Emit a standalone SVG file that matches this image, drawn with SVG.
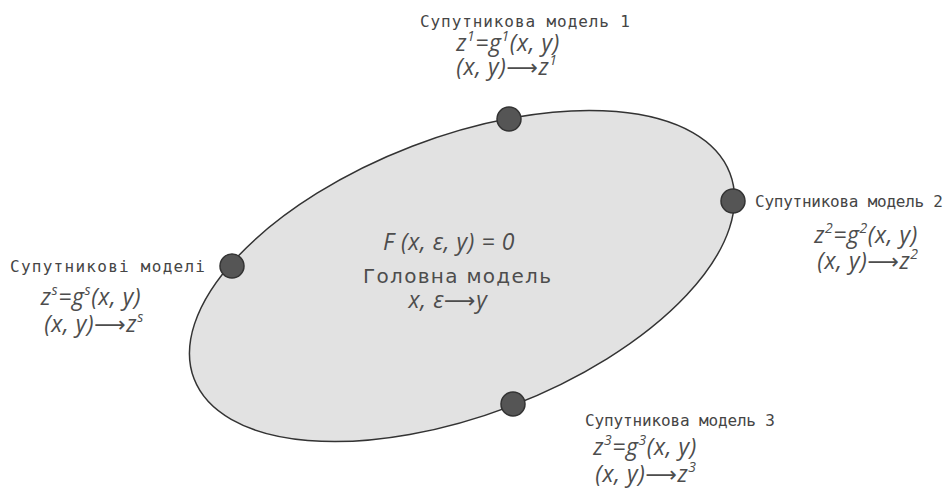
<svg xmlns="http://www.w3.org/2000/svg" width="950" height="488" viewBox="0 0 950 488">
<style>
.lbl{font-family:"DejaVu Sans Mono","Liberation Mono",monospace;font-size:16px;fill:#454545}
.f{font-family:"Open Sans","Noto Sans","DejaVu Sans",sans-serif;font-style:italic;font-size:23px;letter-spacing:0.6px;fill:#4d4d4d;text-anchor:middle}
.sup{font-size:14px}
.ar{font-family:"DejaVu Sans",sans-serif;font-style:normal;font-size:22px}
.main{font-family:"DejaVu Sans",sans-serif;font-size:20px;fill:#4d4d4d;text-anchor:middle}
.dot{fill:#555;stroke:#333;stroke-width:1.5}
</style>
<rect width="950" height="488" fill="#fff"/>
<g id="connectors"></g>
<g id="main-model">
<ellipse cx="462" cy="276" rx="287" ry="139" transform="rotate(-21 462 276)" fill="#e2e2e2" stroke="#333" stroke-width="1.5"/>
<text class="f" x="449" y="250">F (x, ε, y) = 0</text>
<text class="main" x="457" y="283" textLength="188">Головна  модель</text>
<text class="f" x="448" y="308">x, ε<tspan class="ar">⟶</tspan>y</text>
</g>
<g id="satellite-1">
<circle class="dot" cx="509" cy="119" r="12"/>
<text class="lbl" x="420" y="27" textLength="210">Супутникова модель 1</text>
<text class="f" x="508" y="51">z<tspan class="sup" dy="-10">1</tspan><tspan dy="10">=g</tspan><tspan class="sup" dy="-10">1</tspan><tspan dy="10">(x, y)</tspan></text>
<text class="f" x="507" y="75">(x, y)<tspan class="ar">⟶</tspan>z<tspan class="sup" dy="-10">1</tspan></text>
</g>
<g id="satellite-2">
<circle class="dot" cx="733" cy="201" r="12"/>
<text class="lbl" x="755" y="207" textLength="188">Супутникова модель 2</text>
<text class="f" x="866" y="243">z<tspan class="sup" dy="-10">2</tspan><tspan dy="10">=g</tspan><tspan class="sup" dy="-10">2</tspan><tspan dy="10">(x, y)</tspan></text>
<text class="f" x="868" y="269">(x, y)<tspan class="ar">⟶</tspan>z<tspan class="sup" dy="-10">2</tspan></text>
</g>
<g id="satellite-s">
<circle class="dot" cx="232" cy="266" r="12"/>
<text class="lbl" x="10" y="272" textLength="195">Супутникові моделі</text>
<text class="f" x="91" y="305">z<tspan class="sup" dy="-10">s</tspan><tspan dy="10">=g</tspan><tspan class="sup" dy="-10">s</tspan><tspan dy="10">(x, y)</tspan></text>
<text class="f" x="94" y="332">(x, y)<tspan class="ar">⟶</tspan>z<tspan class="sup" dy="-10">s</tspan></text>
</g>
<g id="satellite-3">
<circle class="dot" cx="513" cy="404" r="12"/>
<text class="lbl" x="585" y="426" textLength="190">Супутникова модель 3</text>
<text class="f" x="645" y="455">z<tspan class="sup" dy="-10">3</tspan><tspan dy="10">=g</tspan><tspan class="sup" dy="-10">3</tspan><tspan dy="10">(x, y)</tspan></text>
<text class="f" x="646" y="482">(x, y)<tspan class="ar">⟶</tspan>z<tspan class="sup" dy="-10">3</tspan></text>
</g>
</svg>
